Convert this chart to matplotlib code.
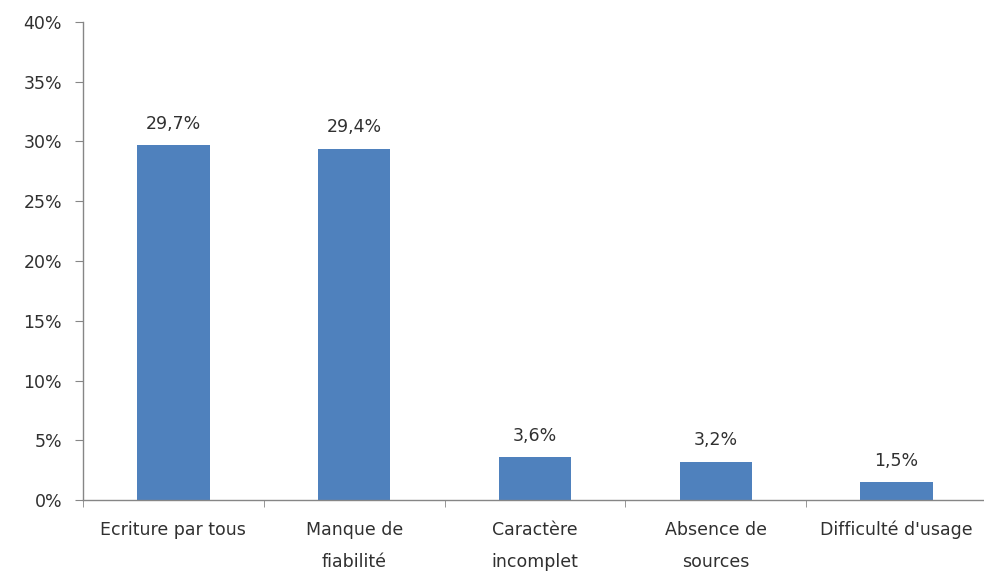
import matplotlib
matplotlib.use("Agg")
import matplotlib.pyplot as plt
from matplotlib.ticker import FixedLocator

categories = ["Ecriture par tous", "Manque de\nfiabilité", "Caractère\nincomplet",
              "Absence de\nsources", "Difficulté d'usage"]
values = [29.7, 29.4, 3.6, 3.2, 1.5]
value_labels = ["29,7%", "29,4%", "3,6%", "3,2%", "1,5%"]
yticks = [0, 5, 10, 15, 20, 25, 30, 35, 40]
ytick_labels = ["0%", "5%", "10%", "15%", "20%", "25%", "30%", "35%", "40%"]

plt.rcParams['font.family'] = ['DejaVu Sans']

fig = plt.figure(figsize=(9.84, 5.71), dpi=100)
ax = fig.add_axes([0.0843, 0.1243, 0.9187, 0.8372])

fs = 12.5
tc = "#303030"
x = list(range(len(categories)))
bars = ax.bar(x, values, width=0.40, color="#4F81BD", zorder=2)
for xi, v, lab in zip(x, values, value_labels):
    ax.annotate(lab, (xi, v), xytext=(0, 9), textcoords="offset points",
                ha="center", va="bottom", fontsize=fs, color=tc)

ax.set_xlim(-0.5, len(categories) - 0.5)
ax.set_ylim(0, 40)
ax.set_yticks(yticks)
ax.set_yticklabels(ytick_labels, fontsize=fs, color=tc)
ax.set_xticks(x)
ax.set_xticklabels(categories, fontsize=fs, color=tc, linespacing=2.0)
ax.tick_params(axis="x", length=0, pad=15)
ax.xaxis.set_minor_locator(FixedLocator([i + 0.5 for i in range(-1, len(categories))]))
ax.tick_params(axis="x", which="minor", length=5, color="#868686", direction="out")
ax.tick_params(axis="y", length=6, color="#868686", direction="out", pad=9)

for s in ["top", "right"]:
    ax.spines[s].set_visible(False)
for s in ["left", "bottom"]:
    ax.spines[s].set_color("#868686")
    ax.spines[s].set_linewidth(1.0)

fig.savefig("out.png", dpi=100)
